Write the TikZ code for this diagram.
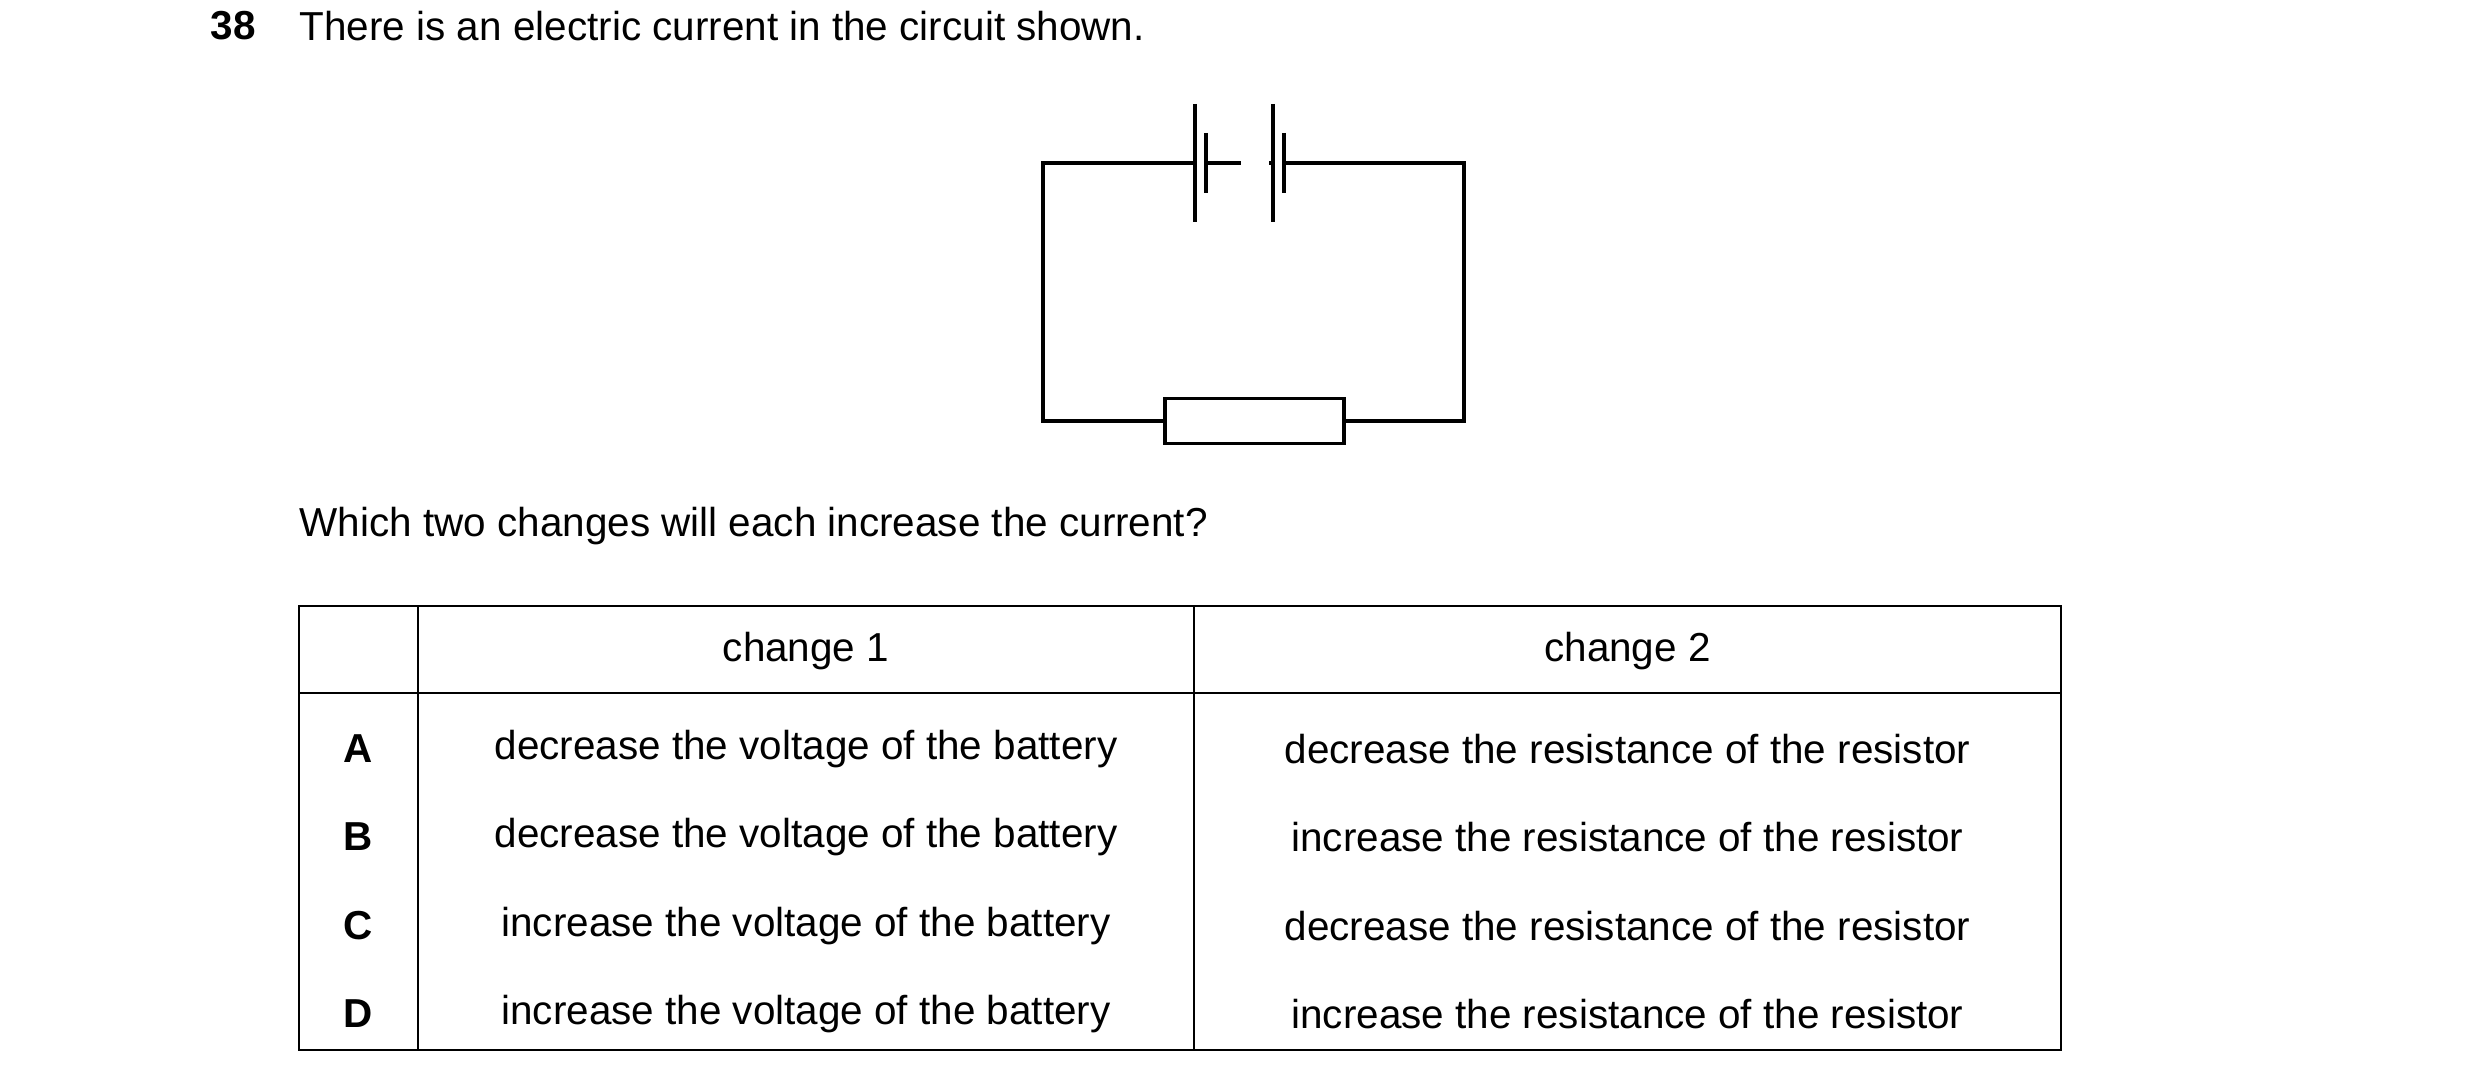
\documentclass[tikz,border=0pt]{standalone}
\usepackage{fontspec}
\setmainfont{Liberation Sans}
\usetikzlibrary{positioning}
\tikzset{
  wire/.style={line width=1.1pt},
  grid/.style={line width=0.7pt},
  txt/.style={inner sep=0pt, font=\fontsize{11.5}{14}\selectfont},
}
\begin{document}
\begin{tikzpicture}[x=0.01cm, y=-0.01cm]
  \useasboundingbox (0,0) rectangle (2480,1077);
  % Question
  \node[txt, anchor=west, font=\fontsize{11.5}{14}\selectfont\bfseries] (num) at (210,26) {38};
  \node[txt, anchor=west] (stem) at (299,26) {There is an electric current in the circuit shown.};

  % Circuit
  \coordinate (tl) at (1043,163);
  \coordinate (tr) at (1464,163);
  \coordinate (bl) at (1043,421);
  \coordinate (br) at (1464,421);
  \node[draw, wire, minimum width=1.79cm, minimum height=0.45cm, inner sep=0pt] (res) at (1254.5,421) {};
  \coordinate (pa) at (1195,163);
  \coordinate (pb) at (1284,163);
  \draw[wire] (pa) -- (tl) -- (bl) -- (res.west);
  \draw[wire] (res.east) -- (br) -- (tr) -- (pb);
  % Cells
  \draw[wire] (1195,104) -- (1195,222);
  \draw[wire] (1206,133) -- (1206,193);
  \draw[wire] (1273,104) -- (1273,222);
  \draw[wire] (1284,133) -- (1284,193);
  \draw[wire, dash pattern=on 10pt off 8pt] (1206,163) -- (1273,163);

  \node[txt, anchor=west] (ask) at (299,526) {Which two changes will each increase the current?};

  % Table
  \draw[grid] (299,606) rectangle (2061,1050);
  \draw[grid] (299,693) -- (2061,693);
  \draw[grid] (418,606) -- (418,1050);
  \draw[grid] (1194,606) -- (1194,1050);
  \node[txt] (head1) at (806,651) {change 1};
  \node[txt] (head2) at (1627.5,651) {change 2};
  \foreach \key/\y/\one/\two in {
      A/749/decrease/decrease,
      B/837/decrease/increase,
      C/926/increase/decrease,
      D/1014/increase/increase} {
    \node[txt, font=\fontsize{11.5}{14}\selectfont\bfseries] (key\key) at (358.5,\y) {\key};
    \node[txt] (one\key) at (806,\y) {\one\ the voltage of the battery};
    \node[txt] (two\key) at (1627.5,\y) {\two\ the resistance of the resistor};
  }
\end{tikzpicture}
\end{document}
